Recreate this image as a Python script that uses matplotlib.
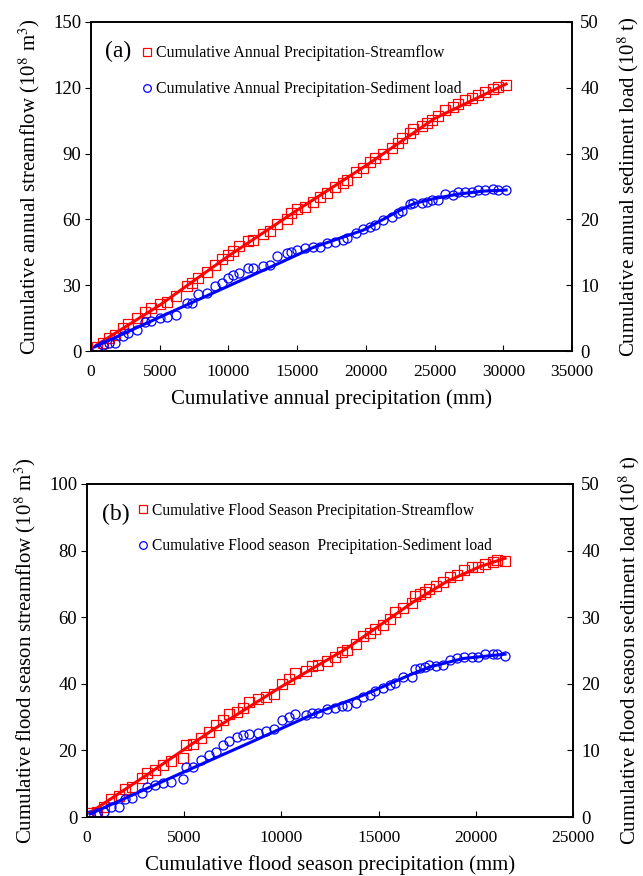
import numpy as np
import matplotlib
matplotlib.use('Agg')
import matplotlib.pyplot as plt
from matplotlib.lines import Line2D

plt.rcParams['font.family'] = ['Liberation Serif', 'DejaVu Serif']
plt.rcParams['mathtext.fontset'] = 'stix'

# (a) annual data: cumulative precipitation (mm), streamflow (1e8 m3), sediment (1e8 t)
p_annual = [412, 898, 1334, 1747, 2305, 2717, 3324, 3930, 4342, 5022,
            5556, 6186, 6963, 7327, 7812, 8418, 9025, 9510, 9995, 10359,
            10796, 11450, 11766, 12542, 13028, 13513, 14240, 14532, 14968, 15575,
            16181, 16667, 17152, 17758, 18316, 18607, 19287, 19821, 20305, 20669,
            21276, 21882, 22368, 22610, 23217, 23459, 24066, 24430, 24793, 25279,
            25764, 26371, 26735, 27220, 27705, 28190, 28676, 29282, 29646, 30204]
q_annual = [1.9, 3.5, 5.7, 7.3, 10.3, 12.3, 14.9, 17.9, 19.4, 21.4,
            22.5, 25.0, 29.6, 30.8, 33.1, 36.1, 39.2, 41.8, 43.7, 45.7,
            47.8, 50.3, 50.6, 53.3, 54.7, 57.9, 60.0, 62.7, 64.6, 65.8,
            68.1, 70.3, 72.2, 74.9, 76.4, 77.9, 81.7, 83.3, 86.3, 87.8,
            89.8, 92.4, 95.0, 96.9, 99.5, 101.0, 102.6, 103.8, 105.3, 107.1,
            109.8, 111.1, 112.6, 114.4, 115.2, 116.7, 118.2, 119.3, 120.2, 121.2]
s_annual = [0.24, 0.90, 1.15, 1.25, 2.27, 2.67, 3.18, 4.45, 4.60, 4.95,
            5.10, 5.47, 7.23, 7.33, 8.65, 8.85, 9.87, 10.38, 11.14, 11.54,
            11.90, 12.56, 12.56, 12.90, 13.06, 14.43, 14.84, 15.10, 15.35, 15.60,
            15.75, 15.84, 16.35, 16.60, 16.85, 17.10, 17.87, 18.48, 18.88, 19.14,
            19.90, 20.40, 20.90, 21.30, 22.30, 22.50, 22.50, 22.70, 23.00, 23.00,
            23.85, 23.70, 24.20, 24.20, 24.20, 24.45, 24.45, 24.60, 24.40, 24.40]

# fitted curves (a)
p_fit_q_a = [400, 5000, 10000, 15000, 20000, 25000, 30200]
q_fit_a = [2.7, 20.9, 43.3, 64.2, 84.5, 106.0, 121.7]
p_fit_s_a = [291, 5022, 9995, 13755, 16181, 19821, 22400, 23500, 24915, 26735, 28554, 30204]
s_fit_a = [0.65, 5.16, 9.87, 13.41, 15.75, 18.38, 21.3, 22.4, 23.14, 23.85, 24.30, 24.46]

# (b) flood season data
p_flood = [154, 497, 875, 1218, 1663, 1955, 2298, 2812, 3069, 3498,
           3927, 4304, 4921, 5093, 5470, 5847, 6293, 6636, 7013, 7322,
           7699, 8042, 8351, 8814, 9208, 9620, 10014, 10408, 10700, 11266,
           11557, 11900, 12329, 12758, 13100, 13358, 13838, 14181, 14558, 14815,
           15244, 15587, 15844, 16273, 16701, 16873, 17130, 17387, 17610, 17953,
           18330, 18673, 19016, 19393, 19788, 20131, 20474, 20868, 21074, 21502]
q_flood = [1.1, 1.6, 3.1, 5.3, 6.3, 8.3, 8.9, 11.6, 13.3, 14.1,
           15.6, 16.9, 17.6, 21.6, 21.9, 23.8, 25.6, 27.6, 29.1, 30.9,
           31.6, 32.6, 34.6, 35.3, 36.1, 36.8, 39.9, 41.3, 43.1, 43.9,
           45.3, 45.6, 46.8, 47.9, 49.6, 50.3, 51.9, 54.3, 55.3, 56.6,
           57.6, 59.6, 61.6, 62.9, 64.4, 66.4, 67.0, 67.7, 68.4, 69.4,
           70.7, 72.2, 72.7, 74.2, 75.0, 75.0, 76.0, 76.7, 77.2, 77.0]
s_flood = [0.30, 0.55, 0.80, 1.45, 1.45, 2.65, 2.80, 3.55, 4.45, 4.80,
           5.15, 5.30, 5.65, 7.45, 7.55, 8.55, 9.30, 9.80, 10.80, 11.45,
           12.05, 12.30, 12.45, 12.55, 12.95, 13.15, 14.55, 14.95, 15.45, 15.30,
           15.55, 15.65, 16.15, 16.30, 16.65, 16.65, 17.15, 17.95, 18.30, 18.95,
           19.30, 19.80, 20.15, 20.95, 21.05, 22.15, 22.30, 22.55, 22.80, 22.65,
           22.80, 23.55, 23.80, 23.95, 24.05, 24.05, 24.45, 24.45, 24.45, 24.15]

# fitted curves (b)
p_fit_q_b = [154, 3069, 6499, 9928, 13358, 16787, 18502, 20216, 21502]
q_fit_b = [1.3, 12.6, 26.3, 38.9, 50.6, 64.6, 70.7, 75.2, 77.7]
p_fit_s_b = [154, 4784, 8214, 11643, 14215, 16787, 17644, 19359, 21502]
s_fit_b = [0.45, 6.5, 10.95, 15.45, 18.3, 21.55, 22.55, 23.8, 24.45]

RED = '#ff0000'
BLUE = '#0000ff'
FS_XTICK = 12.5
FS_YTICK = 13.5
FS_LAB = 15

fig = plt.figure(figsize=(6.43, 8.76), dpi=100)


def panel(rect, p, q, s, pq, qf, ps, sf, xmax, ystep, ylmax, yrmax, tag, labels,
          xlabel, ylabel_l, ylabel_r, leg_y, leg_fs):
    ax = fig.add_axes(rect)
    ax2 = ax.twinx()
    ax.plot(p, q, 's', ms=6.5, mfc='none', mec=RED, mew=0.9)
    ax.plot(pq, qf, '-', color=RED, lw=2.2)
    ax2.plot(p, s, 'o', ms=6.5, mfc='none', mec=BLUE, mew=0.9)
    ax2.plot(ps, sf, '-', color=BLUE, lw=2.2)

    ax.set_xlim(0, xmax)
    ax.set_ylim(0, ylmax)
    ax2.set_ylim(0, yrmax)
    ax.set_xticks(np.arange(0, xmax + 1, 5000))
    ax.set_yticks(np.arange(0, ylmax + 1, ystep))
    ax2.set_yticks(np.arange(0, yrmax + 1, 10))

    ax.tick_params(axis='x', direction='in', length=4, labelsize=FS_XTICK, pad=9, top=False)
    ax.tick_params(axis='y', direction='out', length=4, labelsize=FS_YTICK, pad=3)
    ax2.tick_params(axis='y', direction='in', length=4, labelsize=FS_YTICK, pad=6)
    for a in (ax, ax2):
        for sp in a.spines.values():
            sp.set_linewidth(1.2)

    ax.set_xlabel(xlabel, fontsize=FS_LAB, labelpad=7)
    ax.set_ylabel(ylabel_l, fontsize=FS_LAB, labelpad=8)
    ax2.set_ylabel(ylabel_r, fontsize=FS_LAB, labelpad=12)

    ax.text(0.03, 0.91, tag, transform=ax.transAxes, fontsize=17, va='center', ha='left')
    handles = [Line2D([], [], ls='none', marker='s', ms=5.5, mfc='none', mec=RED, mew=0.9),
               Line2D([], [], ls='none', marker='o', ms=5.5, mfc='none', mec=BLUE, mew=0.9)]
    ax2.legend(handles, labels, loc='upper left', bbox_to_anchor=(0.095, leg_y), frameon=False,
               fontsize=leg_fs, handlelength=0.5, handletextpad=0.3, labelspacing=1.25,
               borderaxespad=0)
    return ax


panel([91 / 643, 1 - 351 / 876, 481 / 643, 329 / 876],
      p_annual, q_annual, s_annual, p_fit_q_a, q_fit_a, p_fit_s_a, s_fit_a,
      35000, 30, 150, 50, '(a)',
      ['Cumulative Annual Precipitation-Streamflow',
       'Cumulative Annual Precipitation-Sediment load'],
      'Cumulative annual precipitation (mm)',
      'Cumulative annual streamflow (10$^8$ m$^3$)',
      'Cumulative annual sediment load (10$^8$ t)', 0.948, 11.4)

panel([87 / 643, 1 - 817 / 876, 486 / 643, 333 / 876],
      p_flood, q_flood, s_flood, p_fit_q_b, q_fit_b, p_fit_s_b, s_fit_b,
      25000, 20, 100, 50, '(b)',
      ['Cumulative Flood Season Precipitation-Streamflow',
       'Cumulative Flood season  Precipitation-Sediment load'],
      'Cumulative flood season precipitation (mm)',
      'Cumulative flood season streamflow (10$^8$ m$^3$)',
      'Cumulative flood season sediment load (10$^8$ t)', 0.962, 11.2)

fig.savefig('out.png', dpi=100)
